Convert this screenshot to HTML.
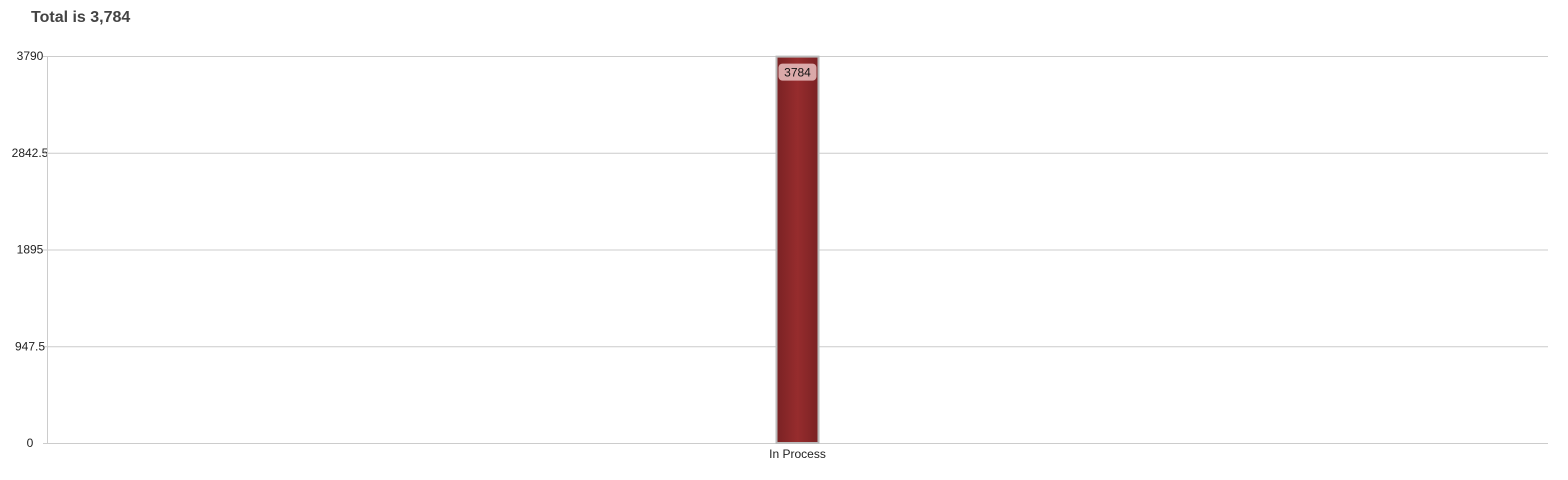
<!DOCTYPE html>
<html><head><meta charset="utf-8"><style>
body{margin:0;background:#fff;font-family:"Liberation Sans",sans-serif;}
#title{position:absolute;left:31px;top:9px;font-size:16px;font-weight:bold;color:#444;}
</style></head><body>
<div id="title">Total is 3,784</div>
<svg id="chart" width="1568" height="480" style="position:absolute;left:0;top:0">
<defs><linearGradient id="g" x1="0" x2="1" y1="0" y2="0">
<stop offset="0" stop-color="#7a2224"/><stop offset="0.5" stop-color="#962c2d"/><stop offset="1" stop-color="#7a2224"/></linearGradient></defs>
</svg>
<script>
const categories=["In Process"];
const values=[3784];
const ticks=[0,947.5,1895,2842.5,3790];
const yMax=3790;
const svg=document.getElementById('chart');
const NS='http://www.w3.org/2000/svg';
const L=47,R=1548,T=56,B=443;
const y=v=>B-(v/yMax)*(B-T);
const bw=(R-L)/categories.length;
const xc=i=>L+bw*(i+0.5);
function mk(t,a){const e=document.createElementNS(NS,t);for(const k in a)e.setAttribute(k,a[k]);svg.appendChild(e);return e;}
ticks.forEach(t=>{
 const ln=mk('line',{x1:L-4,x2:R,y1:y(t)+0.5,y2:y(t)+0.5,stroke:'#ccc'});
 
 
 const tx=mk('text',{x:30,y:y(t)+4,'text-anchor':'middle','font-size':12,fill:'#222'});
 tx.textContent=String(t);
 
 
});
const ax=mk('line',{x1:L+0.5,x2:L+0.5,y1:T,y2:B,stroke:'#ccc'});


categories.forEach((c,i)=>{
 const cx=xc(i),w=42;
 const r=mk('rect',{x:cx-w/2,y:y(values[i]),width:w,height:B-y(values[i]),fill:'url(#g)',stroke:'#bbb','stroke-width':2});
 
 
 const lb=mk('rect',{x:cx-19,y:y(values[i])+7,width:38,height:17,rx:4,fill:'#e3b8b8',opacity:0.9});
 
 
 const vt=mk('text',{x:cx,y:y(values[i])+20,'text-anchor':'middle','font-size':12,fill:'#111'});
 vt.textContent=String(values[i]);
 
 
 const ct=mk('text',{x:cx,y:B+15,'text-anchor':'middle','font-size':12,fill:'#222'});
 ct.textContent=c;
 
 
});
</script>
</body></html>
